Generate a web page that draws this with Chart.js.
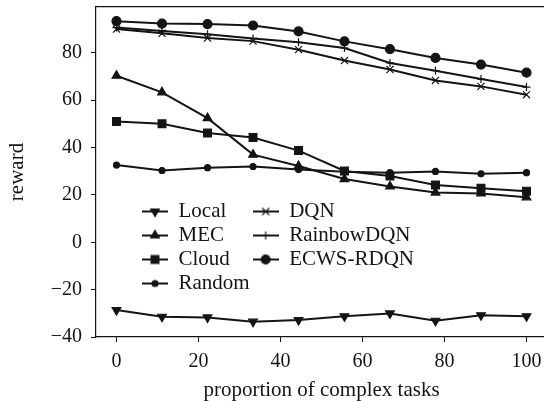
<!DOCTYPE html>
<html>
<head>
<meta charset="utf-8">
<script src="https://cdn.jsdelivr.net/npm/chart.js@4"></script>
<style>
  html, body { margin: 0; padding: 0; background: #fff; overflow: hidden; }
  #chart { display: block; }
</style>
</head>
<body>
<canvas id="chart" width="548" height="401"></canvas>
<script>
// proportion of complex tasks (%) at each measurement
const proportion = [0, 11.1, 22.2, 33.3, 44.4, 55.6, 66.7, 77.8, 88.9, 100];

const local   = [-28.6, -31.4, -31.7, -33.5, -32.8, -31.2, -30.0, -33.1, -30.8, -31.2];
const mec     = [70.3, 63.3, 52.4, 37.0, 32.2, 26.7, 23.6, 21.0, 20.6, 19.0];
const cloud   = [51.0, 50.0, 46.1, 44.2, 38.7, 30.1, 28.0, 24.2, 22.8, 21.6];
const random  = [32.6, 30.3, 31.5, 32.0, 30.7, 29.8, 29.4, 29.9, 28.9, 29.4];
const dqn     = [90.0, 88.2, 86.2, 84.9, 81.3, 76.7, 72.9, 68.3, 65.8, 62.3];
const rainbow = [90.6, 89.2, 87.8, 86.0, 84.4, 82.0, 75.7, 72.4, 68.9, 65.5];
const ecws    = [93.3, 92.3, 92.1, 91.5, 89.0, 84.8, 81.5, 77.8, 75.0, 71.6];

const xTicks = [0, 20, 40, 60, 80, 100];
const yTicks = [-40, -20, 0, 20, 40, 60, 80];

const INK = '#141414';
const FONT = "'Liberation Serif', 'Times New Roman', serif";

const series = [
  { label: 'Local',      data: local,   style: 'triangle', radius: 5,   rotation: 180 },
  { label: 'MEC',        data: mec,     style: 'triangle', radius: 5,   rotation: 0 },
  { label: 'Cloud',      data: cloud,   style: 'rect',     radius: 5.5, rotation: 0 },
  { label: 'Random',     data: random,  style: 'circle',   radius: 3,   rotation: 0 },
  { label: 'DQN',        data: dqn,     style: 'crossRot', radius: 5,   rotation: 0 },
  { label: 'RainbowDQN', data: rainbow, style: 'cross',    radius: 4,   rotation: 0 },
  { label: 'ECWS-RDQN',  data: ecws,    style: 'circle',   radius: 4.5, rotation: 0 }
];

// small line+marker swatch for each legend entry
function legendIcon(s) {
  const c = document.createElement('canvas');
  c.width = 26; c.height = 14;
  const g = c.getContext('2d');
  g.strokeStyle = INK; g.fillStyle = INK; g.lineWidth = 2;
  g.beginPath(); g.moveTo(0, 7); g.lineTo(26, 7); g.stroke();
  g.lineWidth = 1.2;
  Chart.helpers.drawPoint(g, { pointStyle: s.style, radius: s.radius, rotation: s.rotation, borderWidth: 1.2 }, 13, 7);
  return c;
}
const icons = series.map(legendIcon);

const datasets = series.map(s => ({
  label: s.label,
  data: s.data.map((v, i) => ({ x: proportion[i], y: v })),
  borderColor: INK,
  backgroundColor: INK,
  borderWidth: 2,
  tension: 0,
  pointStyle: s.style,
  pointRadius: s.radius,
  pointRotation: s.rotation,
  pointBorderWidth: 1.2,
  pointBorderColor: INK,
  pointBackgroundColor: INK
}));

// place the legend as two columns inside the plot
const legendPlacement = {
  id: 'legendPlacement',
  afterLayout(chart) {
    const lg = chart.legend;
    if (!lg) return;
    lg.maxHeight = 110;
    lg.fit();
    lg.left = 139;
    lg.top = 198;
    lg.right = lg.left + lg.width;
    lg.bottom = lg.top + lg.height;
  }
};

// keep edge tick labels from shrinking the plot area
const noEdgePadding = s => {
  s.paddingTop = 0; s.paddingBottom = 0;
  s.paddingLeft = 0; s.paddingRight = 0;
};

new Chart(document.getElementById('chart'), {
  type: 'line',
  data: { datasets },
  plugins: [legendPlacement],
  options: {
    responsive: false,
    animation: false,
    devicePixelRatio: 1,
    layout: { autoPadding: false, padding: { top: 7, right: 1, bottom: 0, left: 0 } },
    plugins: {
      tooltip: { enabled: false },
      legend: {
        position: 'chartArea',
        align: 'start',
        labels: {
          usePointStyle: true,
          pointStyleWidth: 26,
          padding: 3,
          color: INK,
          font: { family: FONT, size: 21 },
          generateLabels(chart) {
            const items = Chart.defaults.plugins.legend.labels.generateLabels(chart);
            items.forEach(it => { it.pointStyle = icons[it.datasetIndex]; it.rotation = 0; });
            return items;
          }
        }
      }
    },
    scales: {
      x: {
        type: 'linear',
        position: 'bottom',
        min: -5,
        max: 105,
        afterBuildTicks: s => { s.ticks = xTicks.map(v => ({ value: v })); },
        afterFit: s => { s.height = 64; noEdgePadding(s); },
        ticks: { color: INK, font: { family: FONT, size: 20 }, padding: 8, maxRotation: 0 },
        grid: { drawOnChartArea: false, drawTicks: true, tickLength: 5, color: INK, tickWidth: 1 },
        border: { color: INK, width: 1.2 },
        title: {
          display: true,
          text: 'proportion of complex tasks',
          color: INK,
          font: { family: FONT, size: 21, lineHeight: 1.0 },
          padding: 0
        }
      },
      xTop: {
        type: 'linear',
        position: 'top',
        min: -5,
        max: 105,
        afterFit: s => { s.height = 0; noEdgePadding(s); },
        ticks: { display: false },
        grid: { drawOnChartArea: false, drawTicks: false },
        border: { color: INK, width: 1.2 }
      },
      y: {
        type: 'linear',
        min: -39.95,
        max: 99.3,
        afterBuildTicks: s => { s.ticks = yTicks.map(v => ({ value: v })); },
        afterFit: s => { s.width = 96; noEdgePadding(s); },
        ticks: {
          color: INK,
          font: { family: FONT, size: 20 },
          padding: 9,
          callback: v => (v < 0 ? '\u2212' + Math.abs(v) : String(v))
        },
        grid: { drawOnChartArea: false, drawTicks: true, tickLength: 5, color: INK, tickWidth: 1 },
        border: { color: INK, width: 1.2 },
        title: {
          display: true,
          text: 'reward',
          color: INK,
          font: { family: FONT, size: 21, lineHeight: 1.2 },
          padding: { top: 5, bottom: 0 }
        }
      }
    }
  }
});
</script>
</body>
</html>
